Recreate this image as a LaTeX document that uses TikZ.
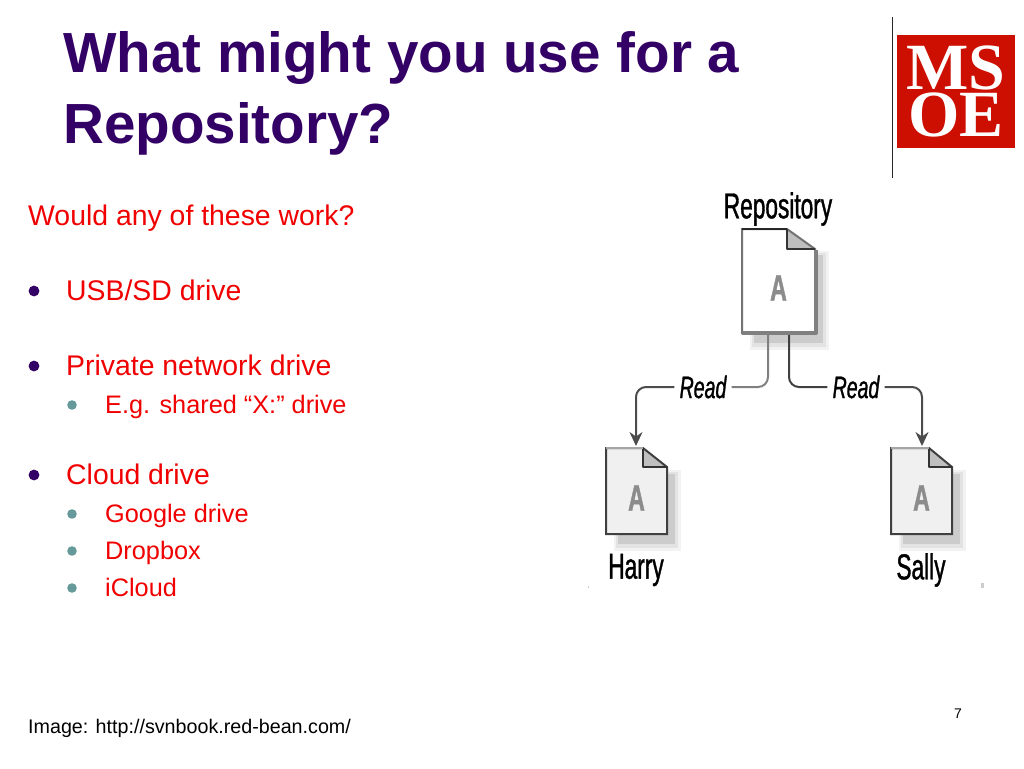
\documentclass[tikz,border=0pt]{standalone}
\usepackage{fontspec}
\setmainfont{Liberation Sans}
\newfontfamily\narrowfont[FakeStretch=0.63,FakeBold=1]{Liberation Sans}
\newfontfamily\logofont{Liberation Serif}
\usetikzlibrary{positioning,arrows.meta}
\definecolor{titlepurple}{HTML}{330066}
\definecolor{textred}{HTML}{F00000}
\definecolor{subteal}{HTML}{669999}
\definecolor{logored}{HTML}{CC0F00}
\tikzset{
 titletext/.style={anchor=base west,inner sep=0pt,text=titlepurple,font=\fontsize{56.6}{60}\selectfont\bfseries},
 maintext/.style={anchor=base west,inner sep=0pt,text=textred,font=\fontsize{28.4}{30}\selectfont},
 subtext/.style={anchor=base west,inner sep=0pt,text=textred,font=\fontsize{25.3}{28}\selectfont},
 smalltext/.style={anchor=base west,inner sep=0pt,font=\fontsize{19.7}{24}\selectfont},
 doctext/.style={inner sep=0pt,font=\narrowfont\fontsize{36}{40}\selectfont},
 readtext/.style={inner sep=5pt,font=\narrowfont\itshape\fontsize{31}{36}\selectfont},
 letter/.style={inner sep=0pt,text=black!45,font=\narrowfont\bfseries\fontsize{37}{40}\selectfont},
 logotext/.style={inner sep=0pt,text=white,align=center,font=\logofont\bfseries\fontsize{66}{47}\selectfont},
 wire/.style={line width=2pt,rounded corners=10pt},
 readtip/.style={-{Stealth[length=14pt,width=13pt]}},
}
% one sheet: name, left, top, right, bottom, fold x, fold y, fill, edge colour
\newcommand{\sheet}[9]{
 \fill[black!5] (#2+8,#3+22)rectangle(#4+14,#5+17);
 \fill[black!11] (#2+10,#3+24)rectangle(#4+11,#5+14);
 \fill[black!20] (#2+12,#3+26)rectangle(#4+8,#5+10);
 \fill[#8] (#2,#3)--(#6,#3)--(#4,#7)--(#4,#5)--(#2,#5)--cycle;
 \fill[black!25] (#6,#3)--(#4,#7)--(#6,#7)--cycle;
 \draw[#9,line width=2pt,line join=miter] (#2,#3)--(#6,#3)--(#4,#7)--(#4,#5)--(#2,#5)--cycle;
 \draw[black!80,line width=1.6pt] (#6,#3)--(#6,#7)--(#4,#7);
 \node[letter] (#1) at ({(#2+#4)/2},{(#3+#5)/2+7}) {A};
}
\begin{document}
\begin{tikzpicture}[x=1pt,y=-1pt,>=stealth,line join=round]
 \useasboundingbox (0,0) rectangle (1024,768);
 % title
 \node[titletext] (titleA) at (63,72) {What might you use for a};
 \node[titletext] (titleB) at (63,143) {Repository?};
 % logo
 \draw[black!85,line width=1pt] (892,17)--(892,178);
 \fill[logored] (897,35) rectangle (1015,148);
 \node[logotext] (logo) at (956,91) {MS\\OE};
 % bullet list
 \node[maintext] (intro) at (28,225) {Would any of these work?};
 \foreach \name/\ypos/\label in {usb/300/USB\slash SD drive,priv/375/Private network drive,cloud/484/Cloud drive}{
 \fill[titlepurple] (34,\ypos-9) circle (5.4);
 \node[maintext] (\name) at (66,\ypos) {\label};
 }
 \foreach \name/\ypos/\label in {shared/413/E.g. shared “X:” drive,google/522/Google drive,dropbox/559/Dropbox,icloud/596/iCloud}{
 \fill[subteal] (72,\ypos-8) circle (4.8);
 \node[subtext] (\name) at (105,\ypos) {\label};
 }
 \node[smalltext] (source) at (28,733) {Image: http://svnbook.red-bean.com/};
 \node[anchor=base,inner sep=0pt,font=\fontsize{14}{16}\selectfont] (pagenum) at (958,718) {7};
 % sheets
 \node[doctext] (repolabel) at (778,209) {Repository};
 \sheet{repo}{742}{229}{815}{333}{787}{249}{white}{black!55}
 \draw[black!50,line width=4pt] (815.5,250)--(815.5,333)--(742,333);
 \draw[black!85,line width=2pt] (742,229)--(787,229);
 \sheet{harry}{606}{448}{667}{534}{643}{467}{black!6}{black!75}
 \draw[black!35,line width=2pt] (606,448)--(643,448);
 \sheet{sally}{891}{448}{952}{534}{929}{467}{black!6}{black!75}
 \draw[black!35,line width=2pt] (891,448)--(929,448);
 \node[doctext] (harrylabel) at (636,570) {Harry};
 \node[doctext] (sallylabel) at (921,570) {Sally};
 % read paths
 \node[readtext] (readL) at (703,387) {Read};
 \node[readtext] (readR) at (856,387) {Read};
 \coordinate (repoL) at (768,335);
 \coordinate (repoR) at (789,335);
 \coordinate (harryin) at (636,446);
 \coordinate (sallyin) at (922,446);
 \draw[wire,black!50] (repoL)|-(readL.east);
 \draw[wire,black!75] (repoR)|-(readR.west);
 \draw[wire,black!70,readtip] (readL.west)-|(harryin);
 \draw[wire,black!70,readtip] (readR.east)-|(sallyin);
 % specks at the edge of the image
 \fill[black!20] (587.5,586) rectangle (589,588);
 \fill[black!20] (980.5,583) rectangle (984,587.5);
\end{tikzpicture}
\end{document}
